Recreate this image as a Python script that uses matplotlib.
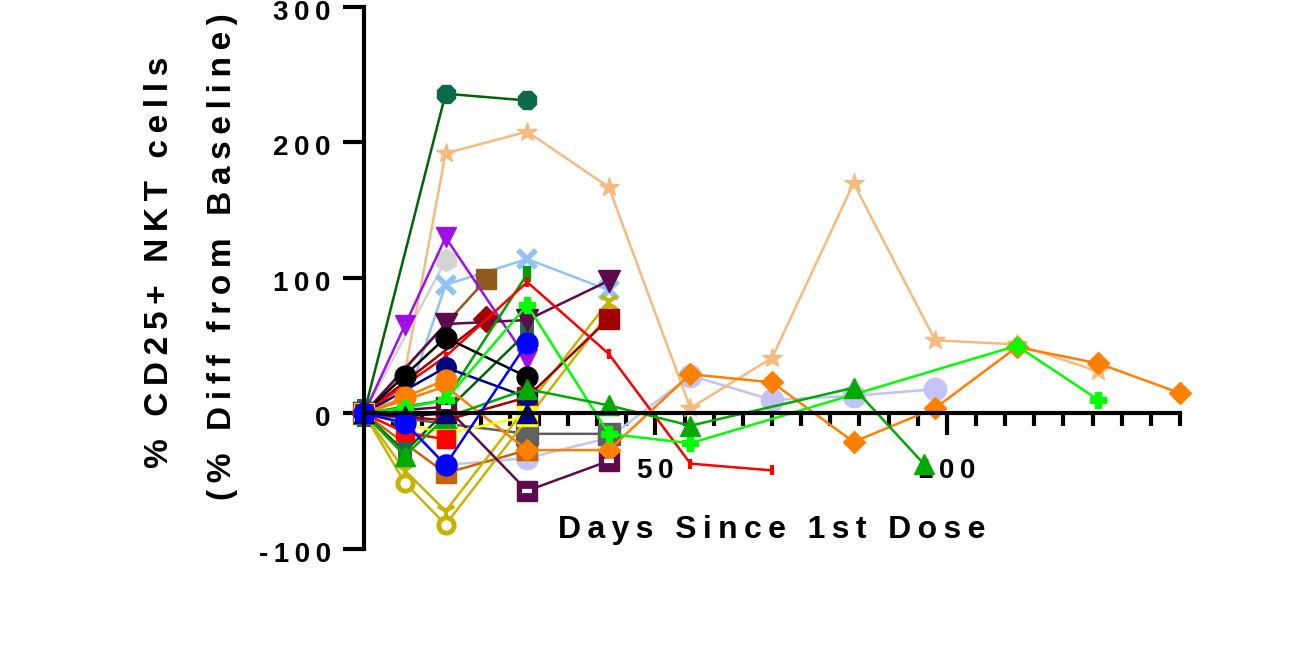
import matplotlib
matplotlib.use('Agg')
import matplotlib.pyplot as plt
import matplotlib.transforms as mtransforms

plt.rcParams['font.family'] = ['Liberation Sans', 'DejaVu Sans']
plt.rcParams['font.weight'] = 'bold'

# ---- data: days since 1st dose / % diff from baseline ----
dkgreen_days = [0, 14, 28]
dkgreen_vals = [0, 236, 231]

tan_days = [0, 7, 14, 28, 42, 56, 70, 84, 98, 112, 126]
tan_vals = [0, 30, 192, 208, 167, 4, 41, 170, 54, 51, 31]

violet_days = [0, 7, 14, 28]
violet_vals = [0, 65, 130, 40]

ltgray_days = [0, 14]
ltgray_vals = [0, 113]

ltblue_days = [0, 7, 14, 28, 42]
ltblue_vals = [0, 5, 95, 114, 91]

brown_days = [0, 21]
brown_vals = [0, 99]

dkred_dia_days = [0, 21]
dkred_dia_vals = [0, 70]

dkred_sq_days = [0, 14, 28, 42]
dkred_sq_vals = [0, -5, 12, 70]

plum_days = [0, 14, 28, 42]
plum_vals = [0, 66, 69, 98]

black_days = [0, 7, 14, 28]
black_vals = [0, 28, 56, 27]

red_days = [0, 14, 28, 42, 56, 70]
red_vals = [0, 42, 97, 44, -37, -42]

navy_circ_days = [0, 14, 28]
navy_circ_vals = [0, 34, 12]

navy_tri_days = [0, 7, 14, 28]
navy_tri_vals = [0, -2, 0, 0]

orange_circ_days = [0, 7, 14]
orange_circ_vals = [0, 12, 25]

orange_dia_days = [0, 14, 28, 42, 56, 70, 84, 98, 112, 126, 140]
orange_dia_vals = [0, 20, -27, -27, 29, 23, -21, 4, 49, 37, 15]

lavender_days = [0, 7, 14, 28, 42, 56, 70, 84, 98]
lavender_vals = [0, -5, -38, -33, -18, 28, 10, 13, 18]

green_days = [0, 7, 14, 28, 42, 56, 84, 96]
green_vals = [0, -31, -3, 18, 6, -9, 19, -37]

lime_days = [0, 7, 14, 28, 42, 56, 112, 126]
lime_vals = [0, 4, 10, 80, -15, -22, 50, 10]

greenbar_days = [0, 14, 28]
greenbar_vals = [0, 10, 103]

teal_days = [0, 7, 28]
teal_vals = [0, -28, 60]

blue_days = [0, 7, 14, 28]
blue_vals = [0, -7, -38, 52]

red_sq_days = [0, 7, 14]
red_sq_vals = [0, -14, -19]

yellow_days = [0, 14, 28]
yellow_vals = [0, -15, -2]

gray_days = [0, 28, 42]
gray_vals = [0, -15, -15]

plum_sq_days = [0, 14, 28, 42]
plum_sq_vals = [0, 5, -57, -35]

olive_ring_days = [0, 7, 14, 42]
olive_ring_vals = [0, -51, -82, 74]

olive_tri_days = [0, 7, 14, 42]
olive_tri_vals = [0, -42, -72, 83]

copper_days = [0, 14, 28]
copper_vals = [0, -44, -27]

y_ticks = [-100, 0, 100, 200, 300]
y_ticklabels = ['-100', '0', '100', '200', '300']
x_ticks = [50, 100]
x_ticklabels = ['50', '100']
x_minor = [d for d in range(5, 141, 5) if d not in x_ticks]


def spaced(s):
    # GraphPad style letter spacing, thin space between letters
    thin = '\u2009'
    return (thin + ' ' + thin).join(thin.join(w) for w in s.split(' '))


fig = plt.figure(figsize=(12.92, 6.46), dpi=100)
ax = fig.add_axes([364 / 1292, 97 / 646, 816 / 1292, 542 / 646])

# (days, vals, line colour, marker, marker colour, size, extra kwargs)
series = [
    (lavender_days, lavender_vals, '#C3C3F5', 'o', '#C3C3F5', 16, {}),
    (copper_days, copper_vals, '#C86400', 's', '#C86400', 14, {}),
    (tan_days, tan_vals, '#F5BA80', '*', '#F5BA80', 15, {}),
    (dkgreen_days, dkgreen_vals, '#006400', '8', '#0B6B48', 14, {}),
    (ltgray_days, ltgray_vals, '#D3D3D3', 'h', '#D3D3D3', 16, {}),
    (ltblue_days, ltblue_vals, '#91C3F5', 'x', '#91C3F5', 13, {'mew': 4}),
    (brown_days, brown_vals, '#8E5A1E', 's', '#8E5A1E', 15, {}),
    (violet_days, violet_vals, '#A010E6', 'v', '#A010E6', 14, {}),
    (gray_days, gray_vals, '#606060', 's', '#606060', 16, {}),
    (olive_tri_days, olive_tri_vals, '#C8B400', '1', '#C8B400', 14, {'mew': 3}),
    (olive_ring_days, olive_ring_vals, '#C8B400', 'o', 'white', 11, {'mew': 3.5, 'mec': '#C8B400'}),
    (plum_sq_days, plum_sq_vals, '#5E0A4F', 's', '#5E0A4F', 14, {}),
    (teal_days, teal_vals, '#006400', '|', '#1B6B4B', 20, {'mew': 10}),
    (dkred_sq_days, dkred_sq_vals, '#A00000', 's', '#A00000', 15, {}),
    (dkred_dia_days, dkred_dia_vals, '#A00000', 'D', '#A00000', 13, {}),
    (plum_days, plum_vals, '#5E0A4F', 'v', '#5E0A4F', 16, {}),
    (greenbar_days, greenbar_vals, '#00A000', '|', '#00A000', 12, {'mew': 6}),
    (red_days, red_vals, '#FF0000', '|', '#FF0000', 7, {'mew': 3}),
    (black_days, black_vals, '#000000', 'o', '#000000', 15, {}),
    (navy_circ_days, navy_circ_vals, '#000080', 'o', '#000080', 14, {}),
    (orange_dia_days, orange_dia_vals, '#FF8000', 'D', '#FF8000', 11, {}),
    (orange_circ_days, orange_circ_vals, '#FF8000', 'o', '#FF8000', 15, {}),
    (yellow_days, yellow_vals, '#FFFF00', 's', '#FFFF00', 15, {}),
    (red_sq_days, red_sq_vals, '#FF0000', 's', '#FF0000', 13, {}),
    (lime_days, lime_vals, '#00FF00', 'P', '#00FF00', 12, {}),
    (green_days, green_vals, '#00AA00', '^', '#00AA00', 14, {}),
    (navy_tri_days, navy_tri_vals, '#000080', '^', '#000080', 15, {}),
    (blue_days, blue_vals, '#0000FF', 'o', '#0000FF', 15, {}),
]

for d, v, lc, m, mc, ms, kw in series:
    opts = dict(color=lc, lw=1.8, marker=m, ms=ms, mfc=mc, mec=kw.pop('mec', mc), clip_on=False)
    opts.update(kw)
    ax.plot(d, v, **opts)

# white slot inside the plum squares
ax.plot(plum_sq_days[1:], plum_sq_vals[1:], ls='none', marker='_', ms=7, mew=3, color='white', clip_on=False)

ax.set_xlim(0, 140)
ax.set_ylim(-100, 300)

for s in ['top', 'right']:
    ax.spines[s].set_visible(False)
ax.spines['left'].set_linewidth(3)
ax.spines['bottom'].set_linewidth(3)
ax.spines['bottom'].set_position(('data', 0))

ax.set_yticks(y_ticks)
ax.set_yticklabels([spaced(t) for t in y_ticklabels], fontsize=20, fontweight='bold')
ax.set_xticks(x_ticks)
ax.set_xticklabels([spaced(t) for t in x_ticklabels], fontsize=20, fontweight='bold')
ax.set_xticks(x_minor, minor=True)
ax.tick_params(axis='y', length=15, width=3, pad=9)
ax.tick_params(axis='x', which='major', length=16, width=3, pad=16)
ax.tick_params(axis='x', which='minor', length=9, width=3)

# y tick labels sit a little below their ticks in the original
shift = mtransforms.ScaledTranslation(0, -3 / 100, fig.dpi_scale_trans)
for lab in ax.get_yticklabels():
    lab.set_transform(lab.get_transform() + shift)

fig.text(772 / 1292, 1 - 530 / 646, spaced('Days Since 1st Dose'), ha='center', va='center',
         fontsize=23, fontweight='bold')
fig.text(160 / 1292, 1 - 262 / 646, spaced('% CD25+ NKT cells'), ha='center', va='center',
         rotation=90, fontsize=24, fontweight='bold')
fig.text(223 / 1292, 1 - 257 / 646, spaced('(% Diff from Baseline)'), ha='center', va='center',
         rotation=90, fontsize=24, fontweight='bold')

fig.savefig('out.png', dpi=100)
